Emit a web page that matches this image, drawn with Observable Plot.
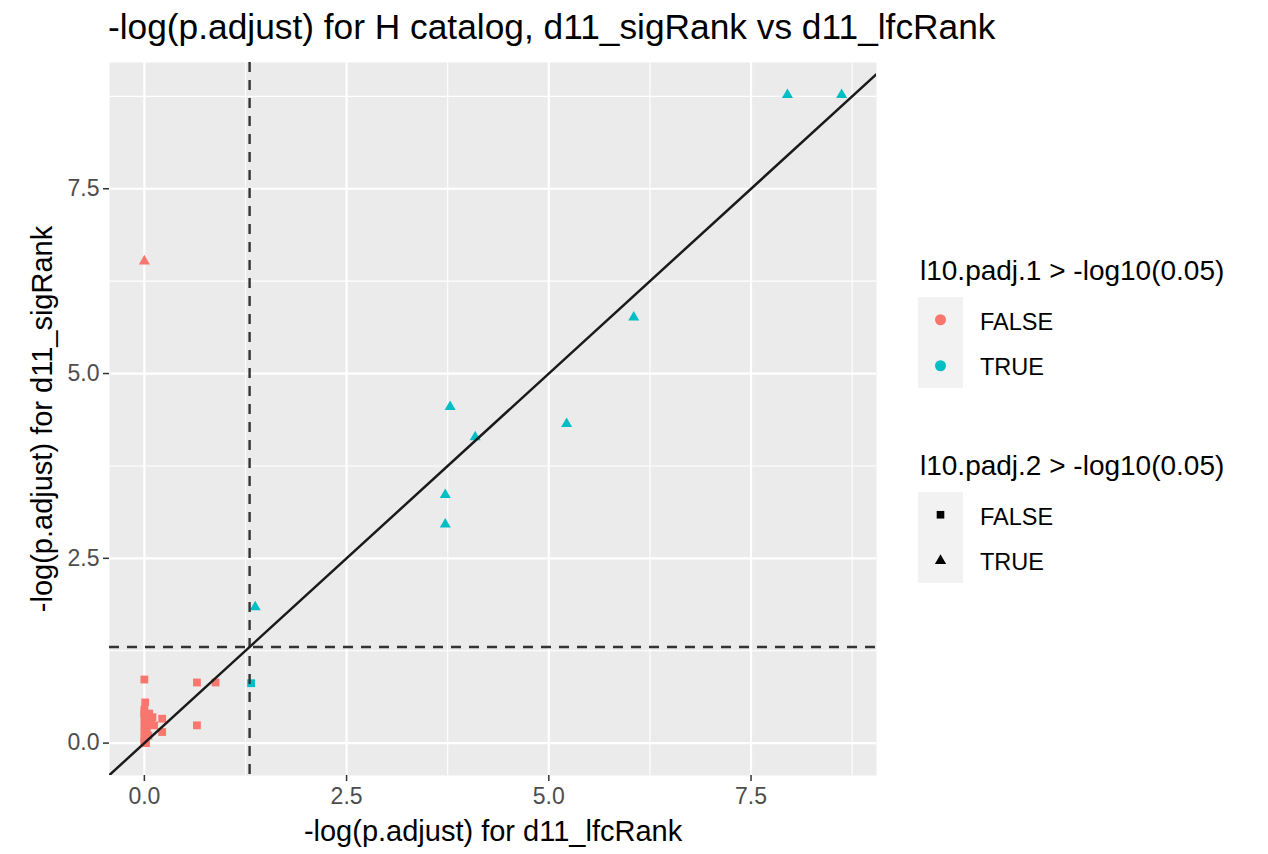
<!DOCTYPE html>
<html>
<head>
<meta charset="utf-8">
<script src="https://cdn.jsdelivr.net/npm/d3@7"></script>
<script src="https://cdn.jsdelivr.net/npm/@observablehq/plot@0.6"></script>
<style>
  body { margin: 0; background: #fff; font-family: "Liberation Sans", Arial, sans-serif; }
  #wrap { position: relative; width: 1268px; height: 854px; overflow: hidden; }
  #title { position: absolute; left: 108px; top: 7px; font-size: 35.3px; line-height: 40px; color: #000; white-space: nowrap; }
  #chart { position: absolute; left: 0; top: 54px; }
  .ltitle { position: absolute; left: 920px; font-size: 28px; line-height: 32px; color: #000; white-space: nowrap; }
  .lbox { position: absolute; left: 918px; width: 45px; background: #f2f2f2; }
  .lkey { position: absolute; left: 0; width: 45px; height: 45.5px; }
  .llab { position: absolute; left: 980px; font-size: 23.5px; line-height: 28px; color: #000; white-space: nowrap; }
</style>
</head>
<body>
<div id="wrap">
  <div id="title"></div>
  <div id="chart"></div>
</div>
<script>
// ---- Data ----
const titleText = "-log(p.adjust) for H catalog, d11_sigRank vs d11_lfcRank";
const xLabel = "-log(p.adjust) for d11_lfcRank";
const yLabel = "-log(p.adjust) for d11_sigRank";
const colorLegendTitle = "l10.padj.1 > -log10(0.05)";
const shapeLegendTitle = "l10.padj.2 > -log10(0.05)";
const legendLevels = ["FALSE", "TRUE"];
const levelColors = ["#F8766D", "#00BFC4"];

// -log(p.adjust) values: x = d11_lfcRank, y = d11_sigRank
const lfcRank = [8.62, 7.95, 6.05, 5.22, 4.09, 3.78, 3.72, 3.72, 1.37, 1.32,
                 0.00, 0.00, 0.65, 0.88, 0.01, 0.65, 0.22, 0.22,
                 0.00, 0.00, 0.00, 0.02, 0.05, 0.08, 0.00, 0.03, 0.00, 0.05, 0.00, 0.02, 0.10, 0.12, 0.06, 0.00];
const sigRank = [8.77, 8.77, 5.76, 4.32, 4.14, 4.55, 3.36, 2.96, 1.84, 0.81,
                 6.52, 0.86, 0.82, 0.82, 0.55, 0.24, 0.33, 0.15,
                 0.45, 0.40, 0.35, 0.32, 0.30, 0.27, 0.25, 0.20, 0.15, 0.10, 0.05, 0.00, 0.35, 0.24, 0.40, 0.02];

const threshold = -Math.log10(0.05);   // dashed reference lines
const ablineSlope = 1, ablineIntercept = 0;
const xTicks = [0, 2.5, 5, 7.5];
const yTicks = [0, 2.5, 5, 7.5];
const xMinor = [1.25, 3.75, 6.25, 8.75];
const yMinor = [1.25, 3.75, 6.25, 8.75];

// ---- Build table ----
const points = lfcRank.map((x, i) => ({
  x, y: sigRank[i],
  c: x > threshold ? "TRUE" : "FALSE",
  s: sigRank[i] > threshold ? "TRUE" : "FALSE"
}));

function expand(vals) {
  const lo = d3.min(vals), hi = d3.max(vals), r = hi - lo;
  return [lo - 0.05 * r, hi + 0.05 * r];
}
const xDomain = expand(lfcRank);
const yDomain = expand(sigRank);
const ablinePts = xDomain.map(x => ({x, y: ablineIntercept + ablineSlope * x}));

document.getElementById("title").textContent = titleText;

const plot = Plot.plot({
  width: 900,
  height: 800,
  marginLeft: 109,
  marginRight: 24,
  marginTop: 8,
  marginBottom: 79,
  style: { fontFamily: '"Liberation Sans", Arial, sans-serif', background: "transparent" },
  x: { domain: xDomain },
  y: { domain: yDomain },
  color: { domain: legendLevels, range: levelColors },
  marks: [
    Plot.frame({ fill: "#ebebeb", stroke: null }),
    Plot.ruleX(xMinor, { stroke: "#ffffff", strokeWidth: 1.1 }),
    Plot.ruleY(yMinor, { stroke: "#ffffff", strokeWidth: 1.1 }),
    Plot.ruleX(xTicks, { stroke: "#ffffff", strokeWidth: 2.2 }),
    Plot.ruleY(yTicks, { stroke: "#ffffff", strokeWidth: 2.2 }),
    Plot.dot(points.filter(d => d.s === "FALSE"), { x: "x", y: "y", fill: "c", symbol: "square", r: 4.4, stroke: null }),
    Plot.dot(points.filter(d => d.s === "TRUE"), { x: "x", y: "y", fill: "c", symbol: "triangle", r: 4.1, stroke: null }),
    Plot.ruleY([threshold], { stroke: "#333333", strokeWidth: 2.6, strokeDasharray: "10,8" }),
    Plot.ruleX([threshold], { stroke: "#333333", strokeWidth: 2.4, strokeDasharray: "10,8" }),
    Plot.line(ablinePts, { x: "x", y: "y", stroke: "#1a1a1a", strokeWidth: 2.5, clip: true }),
    Plot.axisX(xTicks, { tickSize: 6, tickPadding: 6, fontSize: 23, color: "#4d4d4d", stroke: "#333333", strokeWidth: 1.5, tickFormat: d3.format(".1f"), label: null }),
    Plot.axisY(yTicks, { tickSize: 6, tickPadding: 4, fontSize: 23, color: "#4d4d4d", stroke: "#333333", strokeWidth: 1.5, tickFormat: d3.format(".1f"), label: null }),
    Plot.text([xLabel], { frameAnchor: "bottom", dy: 65, fontSize: 29, fill: "#000", textAnchor: "middle" }),
    Plot.text([yLabel], { frameAnchor: "left", dx: -67, rotate: -90, fontSize: 29, fill: "#000", textAnchor: "middle" })
  ]
});
document.getElementById("chart").appendChild(plot);

// ---- Legends (HTML) ----
const wrap = document.getElementById("wrap");
function addLegend(title, titleTop, boxTop, drawKey) {
  const t = document.createElement("div");
  t.className = "ltitle"; t.style.top = titleTop + "px"; t.textContent = title;
  wrap.appendChild(t);
  const box = document.createElement("div");
  box.className = "lbox"; box.style.top = boxTop + "px"; box.style.height = (45.5 * legendLevels.length) + "px";
  wrap.appendChild(box);
  legendLevels.forEach((lev, i) => {
    const key = d3.create("svg").attr("class", "lkey").attr("width", 45).attr("height", 45.5)
      .style("top", (i * 45.5) + "px");
    drawKey(key, i);
    box.appendChild(key.node());
    const lab = document.createElement("div");
    lab.className = "llab"; lab.style.top = (boxTop + i * 45.5 + 22.75 - 12) + "px"; lab.textContent = lev;
    wrap.appendChild(lab);
  });
}
addLegend(colorLegendTitle, 255, 297, (svg, i) => {
  svg.append("circle").attr("cx", 22.5).attr("cy", 22.75).attr("r", 5.5).attr("fill", levelColors[i]);
});
const legendSymbols = [d3.symbolSquare, d3.symbolTriangle];
addLegend(shapeLegendTitle, 450, 492, (svg, i) => {
  const size = i === 0 ? 58 : 55;
  svg.append("path").attr("transform", "translate(22.5,22.75)")
    .attr("d", d3.symbol(legendSymbols[i], size)()).attr("fill", "#000");
});
</script>
</body>
</html>
